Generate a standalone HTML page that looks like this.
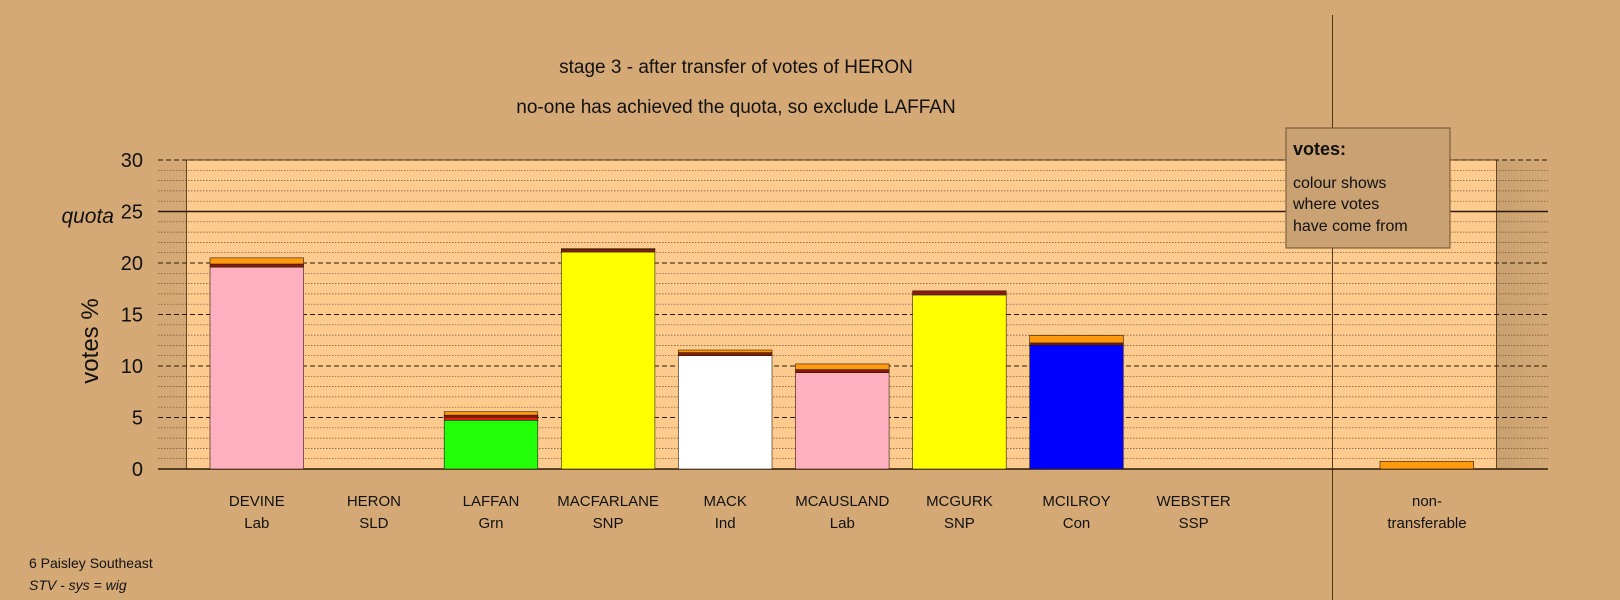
<!DOCTYPE html>
<html><head><meta charset="utf-8"><style>
html,body{margin:0;padding:0;background:#D4A976;}
svg{display:block;font-family:"Liberation Sans",sans-serif;}
</style></head><body>
<svg id="chart" width="1620" height="600" viewBox="0 0 1620 600" xmlns="http://www.w3.org/2000/svg">
<defs>
<linearGradient id="shadeR" x1="0" x2="1" y1="0" y2="0"><stop offset="0" stop-color="#C9A070"/><stop offset="1" stop-color="#D4A976"/></linearGradient>
</defs>
<rect x="0" y="0" width="1620" height="600" fill="#D4A976"/>
<rect x="186.5" y="160" width="1310" height="309" fill="#FECB8E" stroke="#3a2a10" stroke-width="0.8"/>
<rect x="1497" y="160" width="51" height="309" fill="url(#shadeR)"/>
<g id="grid"></g>
<g id="bars"></g>
<line x1="1332.5" y1="15" x2="1332.5" y2="600" stroke="#3a2a10" stroke-width="0.9"/>
<g id="labels" font-size="15" fill="#111" text-anchor="middle"></g>
<g id="yticks" font-size="20" fill="#111" text-anchor="end"></g>
<text x="114" y="223" font-size="21" font-style="italic" fill="#111" text-anchor="end">quota</text>
<text transform="translate(98,341) rotate(-90)" font-size="24" fill="#111" text-anchor="middle">votes %</text>
<text x="736" y="73" font-size="19" fill="#111" text-anchor="middle">stage 3 - after transfer of votes of HERON</text>
<text x="736" y="113" font-size="19" fill="#111" text-anchor="middle">no-one has achieved the quota, so exclude LAFFAN</text>
<g>
<rect x="1286" y="128" width="164" height="120" fill="#C9A172" stroke="#6a5030" stroke-width="1"/>
<text x="1293" y="155" font-size="18" font-weight="bold" fill="#111">votes:</text>
<text x="1293" y="188" font-size="16" fill="#111">colour shows</text>
<text x="1293" y="209" font-size="16" fill="#111">where votes</text>
<text x="1293" y="231" font-size="16" fill="#111">have come from</text>
</g>
<text x="29" y="568" font-size="14" fill="#111">6 Paisley Southeast</text>
<text x="29" y="590" font-size="14" font-style="italic" fill="#111">STV - sys = wig</text>
<script>
const candidates=["DEVINE","HERON","LAFFAN","MACFARLANE","MACK","MCAUSLAND","MCGURK","MCILROY","WEBSTER"];
const parties=["Lab","SLD","Grn","SNP","Ind","Lab","SNP","Con","SSP"];
const baseVotes=[19.6,0,4.73,21.07,11.0,9.35,16.9,12.04,0];
const fromRed=[0,0,0.3,0,0,0,0,0,0];
const fromDarkRed=[0.3,0,0.2,0.25,0.3,0.3,0.4,0.2,0];
const fromOrange=[0.6,0,0.33,0.08,0.25,0.55,0,0.74,0];
const baseColors=["#FFB0C0","#FFD700","#22FF08","#FFFF00","#FFFFFF","#FFB0C0","#FFFF00","#0000FF","#FF4040"];
const nonTransferable=[0.75];
const yTicks=[0,5,10,15,20,25,30];
const quota=25;
const NS="http://www.w3.org/2000/svg";
function yS(v){return 469-v*(309/30);}
function xS(i){return 210+i*117.1;}
const BW=93.6;
function mk(tag,attrs,parent){const e=document.createElementNS(NS,tag);for(const k in attrs)e.setAttribute(k,attrs[k]);parent.appendChild(e);return e;}
const grid=document.getElementById('grid');
for(let v=1;v<=30;v++){
  if(v%5===0) continue;
  const l=mk('line',{x1:158,x2:1548,y1:yS(v),y2:yS(v),stroke:'#6a5030','stroke-width':0.7,'stroke-dasharray':'1.5 1.5'},grid);
  
  
}
yTicks.forEach(v=>{
  let a={x1:158,x2:1548,y1:yS(v),y2:yS(v),stroke:'#2a1a05','stroke-width':1};
  if(v!==0&&v!==quota)a['stroke-dasharray']='5 3';
  if(v===quota||v===0)a['stroke-width']=1.4;
  const l=mk('line',a,grid);
  
  
});
const yt=document.getElementById('yticks');
yTicks.forEach(v=>{
  const t=mk('text',{x:143,y:yS(v)+7},yt);
  
  
  t.textContent=v;
});
const bars=document.getElementById('bars');
function seg(x,v0,v1,fill){
  if(v1<=v0) return;
  const r=mk('rect',{x:x,y:yS(v1),width:BW,height:yS(v0)-yS(v1),fill:fill,stroke:'#2a1a05','stroke-width':0.6},bars);
  
  
}
candidates.forEach((c,i)=>{
  const x=xS(i);
  let v=0;
  seg(x,v,v+baseVotes[i],baseColors[i]); v+=baseVotes[i];
  seg(x,v,v+fromRed[i],'#E02010'); v+=fromRed[i];
  seg(x,v,v+fromDarkRed[i],'#8B1A0A'); v+=fromDarkRed[i];
  seg(x,v,v+fromOrange[i],'#FF9A10'); v+=fromOrange[i];
});
seg(1380,0,nonTransferable[0],'#FF9A10');
const lab=document.getElementById('labels');
candidates.forEach((c,i)=>{
  const cx=xS(i)+BW/2;
  const t1=mk('text',{x:cx,y:506},lab);
  
  
  t1.textContent=c;
  const t2=mk('text',{x:cx,y:528},lab);
  
  
  t2.textContent=parties[i];
});
const n1=mk('text',{x:1427,y:506},lab);


n1.textContent='non-';
const n2=mk('text',{x:1427,y:528},lab);


n2.textContent='transferable';
</script>
</svg>
</body></html>
